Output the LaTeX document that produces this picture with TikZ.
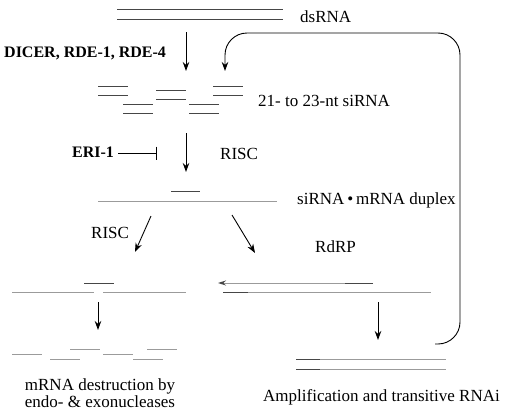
\documentclass[tikz,border=0pt]{standalone}
\usepackage{fontspec}
\setmainfont{Liberation Serif}
\usetikzlibrary{arrows.meta}
\definecolor{rnagray}{RGB}{155,155,155}
\definecolor{rnadark}{RGB}{70,70,70}

\begin{document}
\begin{tikzpicture}[x=1pt, y=-1pt,
  strand/.style={line width=1pt, rnadark},
  mrna/.style={line width=1pt, rnagray},
  flow/.style={-{Stealth[length=9pt, width=6.5pt]}, line width=0.9pt, black},
  lbl/.style={anchor=base west, inner sep=0pt, font=\fontsize{17}{20}\selectfont},
  blbl/.style={anchor=base west, inner sep=0pt, font=\fontsize{16}{19}\selectfont\bfseries}]
\useasboundingbox (0,0) rectangle (506,415);

% Labels
\node[lbl] (dsrna) at (300,22) {dsRNA};
\node[blbl] (dicer) at (4,57) {DICER, RDE-1, RDE-4};
\node[lbl] (sirna) at (258,106) {21- to 23-nt siRNA};
\node[blbl] (eri) at (72,157) {ERI-1};
\node[lbl] (riscA) at (220,159) {RISC};
\node[lbl] (duplex) at (297,204) {siRNA\,\textbullet\,mRNA duplex};
\node[lbl] (riscB) at (91,238) {RISC};
\node[lbl] (rdrp) at (315,252) {RdRP};
\node[anchor=base, inner sep=0pt, align=center, font=\fontsize{17}{17}\selectfont] (destruct) at (100,407) {mRNA destruction by\\endo- \& exonucleases};
\node[lbl] (ampl) at (263,401) {Amplification and transitive RNAi};

% dsRNA
\draw[strand] (117,9) -- (283,9) (117,19) -- (283,19);

% siRNA pieces
\foreach \xa/\ya in {98/86, 123/104, 156/90, 189/104, 213/86}
  \draw[strand] (\xa,\ya) -- ++(30,0) (\xa,\ya+9.5) -- ++(30,0);

% siRNA-mRNA duplex
\draw[strand] (171,191) -- (200,191);
\draw[mrna] (98,201) -- (277,201);

% cleaved mRNA
\draw[strand] (84,283) -- (114,283);
\draw[mrna] (12,292) -- (94,292) (103,292) -- (186,292);
\foreach \xa/\ya in {12/354, 50/359, 70/349, 103/354, 133/359, 147/349}
  \draw[mrna] (\xa,\ya) -- ++(30,0);

% RdRP primed synthesis
\coordinate (prim-start) at (373,283);
\coordinate (prim-end) at (218,283);
\draw[mrna, -{Stealth[length=8pt, width=5pt, color=rnadark]}] (prim-start) -- (prim-end);
\draw[strand] (345,283) -- (373,283);
\draw[mrna] (223,292) -- (431,292);
\draw[strand] (223,292) -- (248,292);

% new dsRNA
\draw[mrna] (296,359) -- (446,359) (296,369) -- (446,369);
\draw[strand] (296,359) -- (320,359) (296,369) -- (320,369);

% Arrows
\coordinate (ds-out) at (186,32);
\coordinate (si-in) at (186,71);
\coordinate (si-out) at (186,133);
\coordinate (dup-in) at (186,172);
\coordinate (eri-out) at (118,153);
\coordinate (eri-bar) at (157,153);
\coordinate (dup-l) at (151,216);
\coordinate (cut-in) at (135,252);
\coordinate (dup-r) at (232,215);
\coordinate (rdrp-in) at (255,253);
\coordinate (cut-out) at (98,302);
\coordinate (frag-in) at (98,330);
\coordinate (syn-out) at (378,302);
\coordinate (new-in) at (378,340);
\coordinate (loop-start) at (435,344);
\coordinate (loop-end) at (225,71);

\draw[flow] (ds-out) -- (si-in);
\draw[flow] (si-out) -- (dup-in);
\draw[line width=0.9pt, -{Bar[width=13pt]}] (eri-out) -- (eri-bar);
\draw[flow] (dup-l) -- (cut-in);
\draw[flow] (dup-r) -- (rdrp-in);
\draw[flow] (cut-out) -- (frag-in);
\draw[flow] (syn-out) -- (new-in);
\draw[flow, rounded corners=22pt] (loop-start) -| (460,33) -| (loop-end);
\end{tikzpicture}
\end{document}
